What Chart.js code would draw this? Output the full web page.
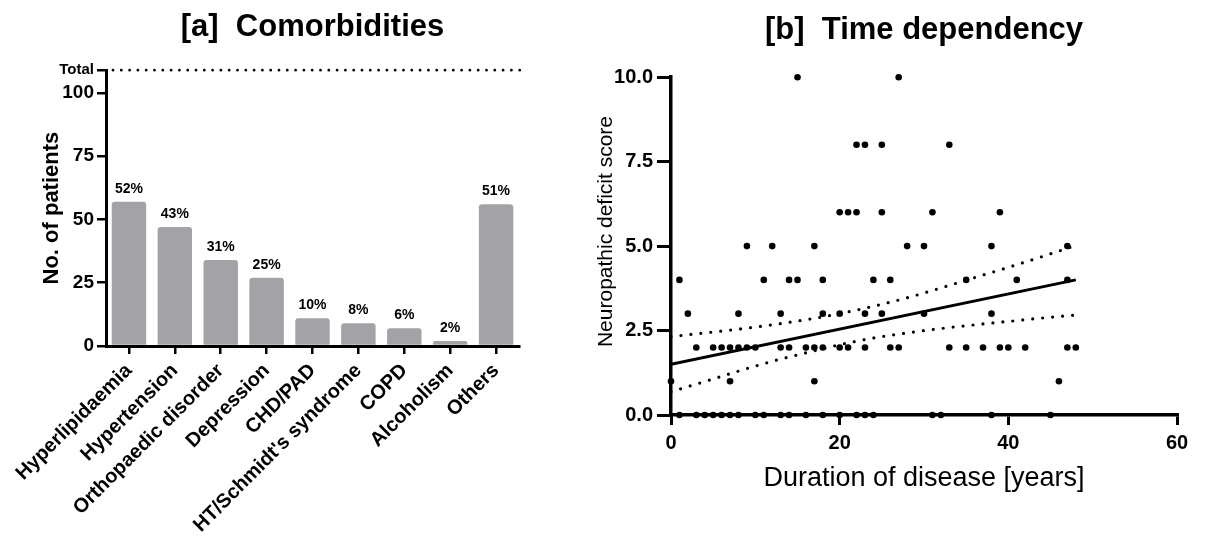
<!DOCTYPE html>
<html>
<head>
<meta charset="utf-8">
<script src="https://cdn.jsdelivr.net/npm/chart.js@4.4.1/dist/chart.umd.min.js"></script>
<style>
  html, body { margin: 0; padding: 0; background: #fff; }
  #wrap { position: relative; width: 1208px; height: 539px; overflow: hidden; }
  .box { position: absolute; top: 0; height: 539px; }
  #boxA { left: 0; width: 540px; }
  #boxB { left: 540px; width: 668px; }
</style>
</head>
<body>
<div id="wrap">
  <div class="box" id="boxA"><canvas id="comorbid"></canvas></div>
  <div class="box" id="boxB"><canvas id="timedep"></canvas></div>
</div>
<script>
// [a] comorbidities
const categories = ['Hyperlipidaemia', 'Hypertension', 'Orthopaedic disorder', 'Depression', 'CHD/PAD',
  "HT/Schmidt's syndrome", 'COPD', 'Alcoholism', 'Others'];
const patients = [57, 47, 34, 27, 11, 9, 7, 2, 56];
const shareLabels = ['52%', '43%', '31%', '25%', '10%', '8%', '6%', '2%', '51%'];
const totalPatients = 109;
const countTicks = [0, 25, 50, 75, 100];

// [b] time dependency
const durationYears = [
  15, 27,
  22, 23, 25, 33,
  20, 21, 22, 25, 31, 39,
  9, 12, 17, 28, 30, 38, 47,
  1, 11, 14, 15, 18, 24, 26, 35, 41, 47,
  2, 8, 13, 18, 20, 23, 25, 30, 38,
  3, 5, 6, 7, 8, 9, 10, 13, 14, 16, 17, 18, 20, 21, 23, 26, 27, 33, 35, 37, 39, 40, 42, 47, 48,
  0, 7, 17, 46,
  1, 3, 4, 5, 6, 7, 8, 10, 11, 13, 14, 16, 18, 20, 22, 23, 24, 31, 32, 38, 45
];
const deficitScore = [
  10, 10,
  8, 8, 8, 8,
  6, 6, 6, 6, 6, 6,
  5, 5, 5, 5, 5, 5, 5,
  4, 4, 4, 4, 4, 4, 4, 4, 4, 4,
  3, 3, 3, 3, 3, 3, 3, 3, 3,
  2, 2, 2, 2, 2, 2, 2, 2, 2, 2, 2, 2, 2, 2, 2, 2, 2, 2, 2, 2, 2, 2, 2, 2, 2,
  1, 1, 1, 1,
  0, 0, 0, 0, 0, 0, 0, 0, 0, 0, 0, 0, 0, 0, 0, 0, 0, 0, 0, 0, 0
];
const fitX = [0, 48];
const fitY = [1.5, 4.0];
const bandX = [0, 4, 8, 12, 16, 20, 24, 28, 32, 36, 40, 44, 48];
const bandUpper = [2.32, 2.43, 2.54, 2.67, 2.82, 3.00, 3.22, 3.47, 3.76, 4.07, 4.37, 4.69, 5.02];
const bandLower = [0.69, 0.99, 1.30, 1.59, 1.84, 2.08, 2.28, 2.43, 2.56, 2.67, 2.77, 2.87, 2.96];
const scoreTicks = [0, 2.5, 5, 7.5, 10];
const yearTicks = [0, 20, 40, 60];

const FONT = '"Liberation Sans", Arial, Helvetica, sans-serif';
Chart.defaults.font.family = FONT;
Chart.defaults.color = '#000';

const pairs = (xs, ys) => xs.map((x, i) => ({ x: x, y: ys[i] }));

// percentage text above each bar
const barLabels = {
  id: 'barLabels',
  afterDatasetsDraw(chart) {
    const ctx = chart.ctx;
    const meta = chart.getDatasetMeta(0);
    ctx.save();
    ctx.font = 'bold 14px ' + FONT;
    ctx.fillStyle = '#000';
    ctx.textAlign = 'center';
    ctx.textBaseline = 'alphabetic';
    meta.data.forEach((bar, i) => ctx.fillText(shareLabels[i], bar.x, bar.y - 9));
    ctx.restore();
  }
};

// dotted "Total" reference line
const totalLine = {
  id: 'totalLine',
  beforeDatasetsDraw(chart) {
    const { ctx, chartArea, scales } = chart;
    const y = scales.y.getPixelForValue(totalPatients);
    ctx.save();
    ctx.strokeStyle = '#000';
    ctx.lineWidth = 2.8;
    ctx.lineCap = 'round';
    ctx.setLineDash([0, 8.3]);
    ctx.beginPath();
    ctx.moveTo(chartArea.left + 7, y);
    ctx.lineTo(chartArea.right + 2, y);
    ctx.stroke();
    ctx.restore();
  }
};

new Chart(document.getElementById('comorbid'), {
  type: 'bar',
  data: {
    labels: categories,
    datasets: [{
      data: patients,
      backgroundColor: '#a3a3a7',
      barPercentage: 0.75,
      categoryPercentage: 1.0,
      borderRadius: 3,
      borderSkipped: 'start'
    }]
  },
  options: {
    responsive: true,
    maintainAspectRatio: false,
    animation: false,
    layout: { padding: { left: 0, right: 21, top: 0, bottom: 0 } },
    plugins: {
      legend: { display: false },
      tooltip: { enabled: false },
      title: {
        display: true,
        text: '[a]  Comorbidities',
        fullSize: false,
        font: { size: 31, weight: 'bold' },
        padding: { top: 9, bottom: 24 }
      }
    },
    scales: {
      x: {
        offset: true,
        grid: { offset: false, drawOnChartArea: false, tickLength: 8, lineWidth: 2.5, color: '#000' },
        border: { color: '#000', width: 3, z: 1 },
        ticks: { autoSkip: false, minRotation: 45, maxRotation: 45, padding: 5,
          font: { size: 20, weight: 'bold' } },
        afterFit: s => { s.height = 193; }
      },
      y: {
        min: 0,
        max: totalPatients,
        afterBuildTicks: s => { s.ticks = countTicks.concat([totalPatients]).map(v => ({ value: v })); },
        grid: { drawOnChartArea: false, tickLength: 9, lineWidth: 2.5, color: '#000' },
        border: { color: '#000', width: 3, z: 1 },
        ticks: {
          padding: 3,
          callback: v => (v === totalPatients ? 'Total' : v),
          font: c => (c.tick && c.tick.value === totalPatients
            ? { size: 15, weight: 'bold' } : { size: 19, weight: 'bold' })
        },
        title: {
          display: true,
          text: 'No. of patients',
          font: { size: 22, weight: 'bold' },
          padding: { top: 39, bottom: 0 }
        },
        afterFit: s => { s.width = 106; }
      }
    }
  },
  plugins: [totalLine, barLabels]
});

new Chart(document.getElementById('timedep'), {
  type: 'scatter',
  data: {
    datasets: [
      {
        data: pairs(durationYears, deficitScore),
        backgroundColor: '#000',
        borderWidth: 0,
        pointRadius: 3.3,
        clip: false
      },
      {
        data: pairs(fitX, fitY),
        showLine: true,
        borderColor: '#000',
        borderWidth: 3,
        pointRadius: 0
      },
      {
        data: pairs(bandX, bandUpper),
        showLine: true,
        borderColor: '#000',
        borderWidth: 3.2,
        borderDash: [0, 10],
        borderCapStyle: 'round',
        cubicInterpolationMode: 'monotone',
        pointRadius: 0
      },
      {
        data: pairs(bandX, bandLower),
        showLine: true,
        borderColor: '#000',
        borderWidth: 3.2,
        borderDash: [0, 10],
        borderCapStyle: 'round',
        cubicInterpolationMode: 'monotone',
        pointRadius: 0
      }
    ]
  },
  options: {
    responsive: true,
    maintainAspectRatio: false,
    animation: false,
    layout: { padding: { left: 0, right: 31, top: 0, bottom: 0 } },
    plugins: {
      legend: { display: false },
      tooltip: { enabled: false },
      title: {
        display: true,
        text: '[b]  Time dependency',
        fullSize: false,
        font: { size: 31, weight: 'bold' },
        padding: { top: 12, bottom: 28 }
      }
    },
    scales: {
      x: {
        type: 'linear',
        min: 0,
        max: 60,
        afterBuildTicks: s => { s.ticks = yearTicks.map(v => ({ value: v })); },
        grid: { drawOnChartArea: false, tickLength: 10, lineWidth: 3, color: '#000' },
        border: { color: '#000', width: 3.5 },
        ticks: { padding: 6, font: { size: 20, weight: 'bold' } },
        title: {
          display: true,
          text: 'Duration of disease [years]',
          font: { size: 27 },
          padding: { top: 0, bottom: 44 }
        },
        afterFit: s => { s.height = 124; }
      },
      y: {
        min: 0,
        max: 10,
        afterBuildTicks: s => { s.ticks = scoreTicks.map(v => ({ value: v })); },
        grid: { drawOnChartArea: false, tickLength: 14, lineWidth: 3, color: '#000' },
        border: { color: '#000', width: 3.5 },
        ticks: { padding: 4, callback: v => Number(v).toFixed(1), font: { size: 20, weight: 'bold' } },
        title: {
          display: true,
          text: '     Neuropathic deficit score',
          font: { size: 21 },
          padding: { top: 54, bottom: 0 }
        },
        afterFit: s => { s.width = 131; }
      }
    }
  }
});
</script>
</body>
</html>
